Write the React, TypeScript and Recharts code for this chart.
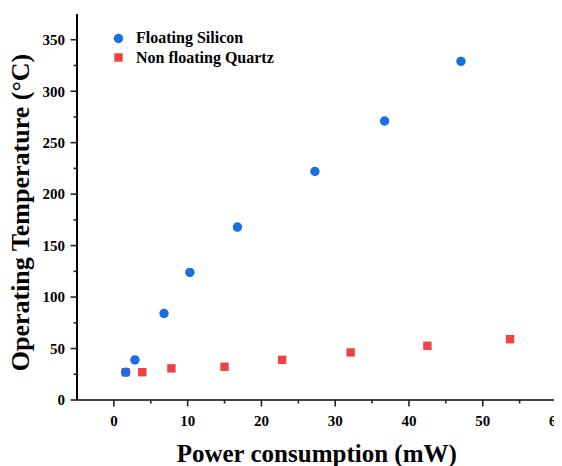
import React from "react";
import { ScatterChart, Scatter, XAxis, YAxis, Legend } from "recharts";

const siliconPower = [1.6, 2.85, 6.8, 10.3, 16.75, 27.25, 36.7, 47.05];
const siliconTemp = [27, 39, 84, 124, 168, 222, 271, 329];
const quartzPower = [1.6, 3.85, 7.8, 15.0, 22.8, 32.1, 42.5, 53.7];
const quartzTemp = [27, 27, 30.7, 32.3, 39, 46.2, 52.7, 59.1];

const xTicks = [0, 5, 10, 15, 20, 25, 30, 35, 40, 45, 50, 55, 60];
const yTicks = [0, 25, 50, 75, 100, 125, 150, 175, 200, 225, 250, 275, 300, 325, 350];

const SERIES_SILICON = "Floating Silicon";
const SERIES_QUARTZ = "Non floating Quartz";
const X_TITLE = "Power consumption (mW)";
const Y_TITLE = "Operating Temperature (\u00B0C)";

const BLUE = "#1a6ee0";
const RED = "#f04242";
const FONT = '"Liberation Serif", "Times New Roman", serif';

const siliconData = siliconPower.map((x, i) => ({ x, y: siliconTemp[i] }));
const quartzData = quartzPower.map((x, i) => ({ x, y: quartzTemp[i] }));

const TICK_SIZE = 6;
const X_TICK_MARGIN = 9;
const Y_TICK_MARGIN = 6;

const XTick = (props: any) => {
  const { x, y, payload } = props;
  const major = payload.value % 10 === 0;
  const axisY = y - TICK_SIZE - X_TICK_MARGIN;
  return (
    <g>
      <line x1={x} x2={x} y1={axisY} y2={axisY + (major ? 6.5 : 3.5)} stroke="#222" strokeWidth={1.6} />
      {major && (
        <text x={x} y={y} dy="0.71em" textAnchor="middle" fontFamily={FONT} fontWeight="bold" fontSize={15} fill="#000">
          {payload.value}
        </text>
      )}
    </g>
  );
};

const YTick = (props: any) => {
  const { x, y, payload } = props;
  const major = payload.value % 50 === 0;
  const axisX = x + TICK_SIZE + Y_TICK_MARGIN;
  return (
    <g>
      <line x1={axisX} x2={axisX - (major ? 6.5 : 3.5)} y1={y} y2={y} stroke="#222" strokeWidth={1.6} />
      {major && (
        <text x={x} y={y} dy="0.355em" textAnchor="end" fontFamily={FONT} fontWeight="bold" fontSize={15} fill="#000">
          {payload.value}
        </text>
      )}
    </g>
  );
};

const Circle = (props: any) => <circle cx={props.cx} cy={props.cy} r={4.7} fill={BLUE} />;
const Square = (props: any) => (
  <rect x={props.cx - 4.2} y={props.cy - 4.2} width={8.4} height={8.4} fill={RED} />
);

const legendItems = [
  { name: SERIES_SILICON, color: BLUE, shape: "circle" },
  { name: SERIES_QUARTZ, color: RED, shape: "square" },
];

const renderLegend = () => (
  <div style={{ fontFamily: FONT, fontWeight: "bold", fontSize: 16, color: "#000" }}>
    {legendItems.map((it) => (
      <div key={it.name} style={{ display: "flex", alignItems: "center", height: 19.5, whiteSpace: "nowrap" }}>
        <svg width={11} height={11} style={{ marginRight: 12, display: "block" }}>
          {it.shape === "circle" ? (
            <circle cx={5.5} cy={5.5} r={4.7} fill={it.color} />
          ) : (
            <rect x={1.3} y={1.3} width={8.4} height={8.4} fill={it.color} />
          )}
        </svg>
        <span>{it.name}</span>
      </div>
    ))}
  </div>
);

const XTitle = (props: any) => {
  const vb = props.viewBox;
  return (
    <text x={vb.x + vb.width / 2} y={vb.y + 62} textAnchor="middle" fontFamily={FONT} fontWeight="bold" fontSize={25} fill="#000">
      {X_TITLE}
    </text>
  );
};

const YTitle = (props: any) => {
  const vb = props.viewBox;
  const cx = vb.x + 11.5;
  const cy = vb.y + vb.height / 2 + 5.5;
  return (
    <text x={cx} y={cy} transform={`rotate(-90, ${cx}, ${cy})`} textAnchor="middle" fontFamily={FONT} fontWeight="bold" fontSize={26} fill="#000">
      {Y_TITLE}
    </text>
  );
};

export default function App() {
  return (
    <div style={{ marginLeft: -8, marginTop: -8, width: 562, height: 466, background: "#fff" }}>
      <ScatterChart width={562} height={466} margin={{ top: 14, right: 5.5, left: 17, bottom: 16 }}>
        <XAxis
          dataKey="x"
          type="number"
          domain={[-5, 60]}
          allowDataOverflow
          ticks={xTicks}
          interval={0}
          height={50}
          tickSize={TICK_SIZE}
          tickMargin={X_TICK_MARGIN}
          tickLine={false}
          tick={<XTick />}
          axisLine={{ stroke: "#444", strokeWidth: 2 }}
          label={<XTitle />}
        />
        <YAxis
          dataKey="y"
          type="number"
          domain={[0, 375]}
          allowDataOverflow
          ticks={yTicks}
          interval={0}
          width={60}
          tickSize={TICK_SIZE}
          tickMargin={Y_TICK_MARGIN}
          tickLine={false}
          tick={<YTick />}
          axisLine={{ stroke: "#000", strokeWidth: 2 }}
          label={<YTitle />}
        />
        <XAxis
          xAxisId="top"
          orientation="top"
          type="number"
          domain={[-5, 60]}
          height={0}
          tick={false}
          tickLine={false}
          axisLine={{ stroke: "#000", strokeWidth: 2 }}
        />
        <YAxis
          yAxisId="right"
          orientation="right"
          type="number"
          domain={[0, 375]}
          width={0}
          tick={false}
          tickLine={false}
          axisLine={{ stroke: "#000", strokeWidth: 2 }}
        />
        <Legend
          layout="vertical"
          align="center"
          verticalAlign="middle"
          content={renderLegend}
          wrapperStyle={{ position: "absolute", left: 113, top: 28.5, width: "auto", height: "auto" }}
        />
        <Scatter name={SERIES_QUARTZ} data={quartzData} shape={<Square />} isAnimationActive={false} />
        <Scatter name={SERIES_SILICON} data={siliconData} shape={<Circle />} isAnimationActive={false} />
      </ScatterChart>
    </div>
  );
}
